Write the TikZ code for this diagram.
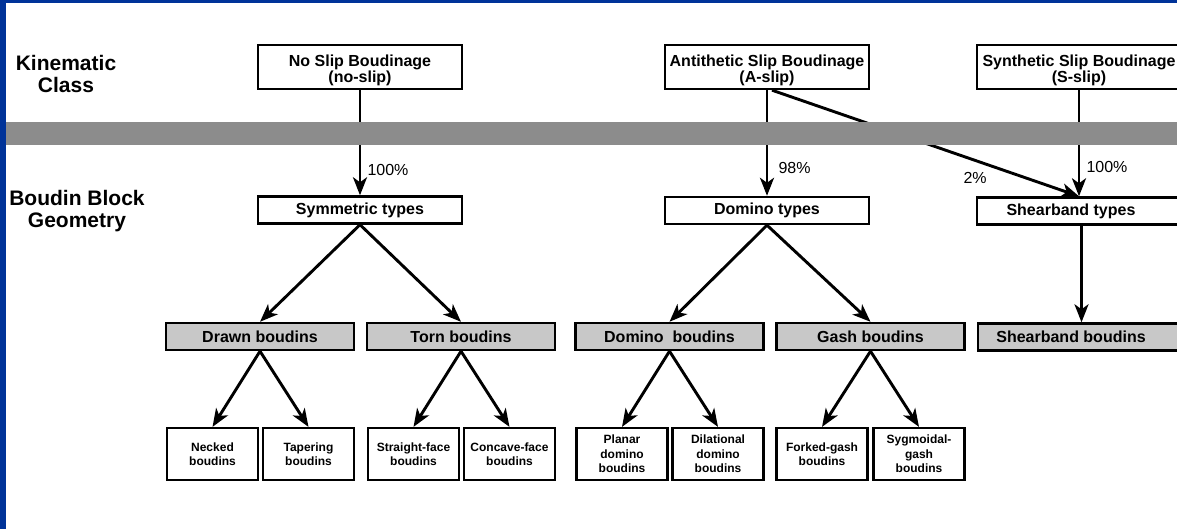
\documentclass[tikz,border=0pt]{standalone}
\usepackage{fontspec}
\setmainfont{Liberation Sans}
\usetikzlibrary{arrows.meta}
\definecolor{frameblue}{RGB}{0,51,153}
\definecolor{bandgray}{RGB}{140,140,140}
\definecolor{levelgray}{RGB}{200,200,200}
\begin{document}
\begin{tikzpicture}[x=1pt,y=-1pt,
  box/.style={draw=black,line width=2.4pt,inner sep=0pt,align=center,
    font=\fontsize{16}{15}\selectfont\bfseries},
  boxtext/.style={inner sep=0pt,align=center,
    font=\fontsize{16}{14}\selectfont\bfseries},
  % two-line class box; the caption sits a little below the middle
  classbox/.style={box,minimum width=204pt,minimum height=44pt,
    label={[boxtext,yshift=-3pt]center:#1}},
  typebox/.style={box,minimum width=204pt,minimum height=27pt},
  familybox/.style={box,fill=levelgray,minimum width=188pt,minimum height=27pt},
  leafbox/.style={box,line width=2.2pt,minimum width=91pt,minimum height=52pt,
    font=\fontsize{12}{14.5}\selectfont\bfseries},
  rowlabel/.style={align=center,font=\fontsize{21}{22}\selectfont\bfseries},
  pct/.style={font=\fontsize{16}{16}\selectfont},
  arr/.style={line width=2.9pt,-{Stealth[length=18pt,width=14pt,inset=5pt]}}
]
\useasboundingbox (0,0) rectangle (1177,529);
\clip (0,0) rectangle (1177,529);
\fill[white] (0,0) rectangle (1177,529);

% row headings
\node[rowlabel] (kin) at (66,74) {Kinematic\\Class};
\node[rowlabel] (geo) at (77,211) {Boudin Block\\Geometry};

% kinematic classes
\node[classbox={No Slip Boudinage\\(no-slip)}] (ns) at (360,67) {};
\node[classbox={Antithetic Slip Boudinage\\(A-slip)}] (ant) at (767,67) {};
\node[classbox={Synthetic Slip Boudinage\\(S-slip)}] (syn) at (1079,67) {};

% block geometry types
\node[typebox] (sym) at (360,210) {Symmetric types};
\node[typebox] (dom) at (767,210.5) {Domino types};
\node[typebox,label={[boxtext,xshift=-8pt]center:Shearband types}] (sht) at (1079,211) {};

% boudin families
\node[familybox] (drawn) at (260,336.5) {Drawn boudins};
\node[familybox] (torn)  at (461,336.5) {Torn boudins};
\node[familybox] (domb)  at (669.5,336.5) {Domino\ \ boudins};
\node[familybox] (gash)  at (870.5,336.5) {Gash boudins};
\node[familybox,minimum width=207pt,
  label={[boxtext,xshift=-10.5pt]center:Shearband boudins}] (shb) at (1081.5,337) {};

% boudin varieties
\node[leafbox] (neck) at (212.5,454) {Necked\\boudins};
\node[leafbox] (tap)  at (308.5,454) {Tapering\\boudins};
\node[leafbox] (str)  at (413.5,454) {Straight-face\\boudins};
\node[leafbox] (conc) at (509.5,454) {Concave-face\\boudins};
\node[leafbox] (plan) at (622,454)   {Planar\\domino\\boudins};
\node[leafbox] (dil)  at (718,454)   {Dilational\\domino\\boudins};
\node[leafbox] (fork) at (822,454)   {Forked-gash\\boudins};
\node[leafbox] (syg)  at (919,454)   {Sygmoidal-\\gash\\boudins};

% class to geometry
\draw[arr] (ns.south) -- (sym.north);
\draw[arr] (ant.south) -- (dom.north);
\coordinate (antoff) at ([xshift=5pt]ant.south);
\draw[arr] (antoff) -- (sht.north);
\draw[arr] (syn.south) -- (sht.north);
\node[pct,anchor=west] (p1) at (364,170) {100\%};
\node[pct,anchor=west] (p2) at (775,168) {98\%};
\node[pct,anchor=west] (p3) at (960,178) {2\%};
\node[pct,anchor=west] (p4) at (1083,167) {100\%};

% geometry to families
\draw[arr] (sym.south) -- (drawn.north);
\draw[arr] (sym.south) -- (torn.north);
\draw[arr] (dom.south) -- (domb.north);
\draw[arr] (dom.south) -- (gash.north);
\draw[arr] (sht.south -| shb.north) -- (shb.north);

% families to varieties
\draw[arr] (drawn.south) -- (neck.north);
\draw[arr] (drawn.south) -- (tap.north);
\draw[arr] (torn.south) -- (str.north);
\draw[arr] (torn.south) -- (conc.north);
\draw[arr] (domb.south) -- (plan.north);
\draw[arr] (domb.south) -- (dil.north);
\draw[arr] (gash.south) -- (fork.north);
\draw[arr] (gash.south) -- (syg.north);

% divider band between the two rows
\fill[bandgray] (6,122) rectangle (1177,145);

% frame
\fill[frameblue] (0,0) rectangle (6,529);
\fill[frameblue] (0,0) rectangle (1177,3);
\end{tikzpicture}
\end{document}
